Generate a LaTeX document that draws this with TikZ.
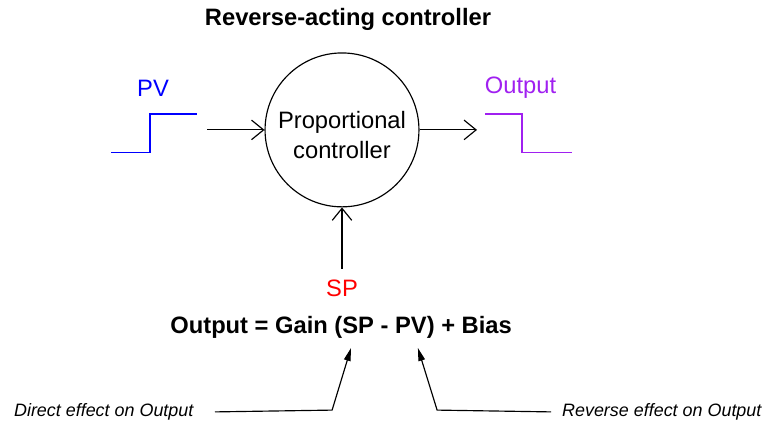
\documentclass[tikz,border=0pt]{standalone}
\usepackage{fontspec}
\setmainfont{Liberation Sans}
\definecolor{pvblue}{RGB}{0,0,255}
\definecolor{outpurple}{RGB}{160,32,240}
\definecolor{spred}{RGB}{255,0,0}
\usetikzlibrary{arrows.meta,positioning,calc}

\begin{document}
\begin{tikzpicture}[
    line width=1.1pt,
    bigtxt/.style={font=\fontsize{22.5}{27}\selectfont, inner sep=0pt},
    smalltxt/.style={font=\fontsize{17}{20}\selectfont\itshape, inner sep=0pt},
    flow/.style={-{Straight Barb[length=4mm,width=6.5mm]}},
    pointer/.style={-{Triangle[length=4.3mm,width=2.2mm]}}]
  \useasboundingbox (0,0) rectangle (25.5,14.2);
  % title
  \node[bigtxt, font=\fontsize{22.5}{27}\selectfont\bfseries] (title) at (11.6,13.55) {Reverse-acting controller};
  % controller
  \node[draw, circle, minimum size=5.13cm] (ctrl) at (11.4,9.87) {};
  \node[bigtxt, align=center] (ctrltxt) at ($(ctrl.center)+(0,-0.17)$) {Proportional\\[2pt]controller};
  % PV input
  \node[bigtxt, text=pvblue] (pv) at (5.1,11.27) {PV};
  \draw[pvblue] (3.7,9.13) -- (5,9.13) -- (5,10.4) -- (6.57,10.4);
  \coordinate (pvin) at (6.9,9.87);
  \draw[flow] (pvin) -- (ctrl.west);
  % output
  \node[bigtxt, text=outpurple] (out) at (17.35,11.27) {Output};
  \draw[outpurple] (16.17,10.4) -- (17.4,10.4) -- (17.4,9.13) -- (19.07,9.13);
  \coordinate (outend) at (15.9,9.87);
  \draw[flow] (ctrl.east) -- (outend);
  % setpoint
  \node[bigtxt, text=spred] (sp) at (11.4,4.6) {SP};
  \draw[flow] ($(sp.north)+(0,0.35)$) -- (ctrl.south);
  % equation
  \node[bigtxt, font=\fontsize{22.5}{27}\selectfont\bfseries] (eqn) at (11.37,3.3) {Output = Gain (SP - PV) + Bias};
  % effects
  \node[smalltxt, anchor=west] (direct) at (0.45,0.47) {Direct effect on Output};
  \node[smalltxt, anchor=east] (reverse) at (25.4,0.47) {Reverse effect on Output};
  \coordinate (dtip) at (11.7,2.6);
  \coordinate (rtip) at (13.93,2.6);
  \draw[pointer] ($(direct.east)+(0.7,0)$) -- (11.07,0.53) -- (dtip);
  \draw[pointer] ($(reverse.west)+(-0.35,0)$) -- (14.57,0.53) -- (rtip);
\end{tikzpicture}
\end{document}
